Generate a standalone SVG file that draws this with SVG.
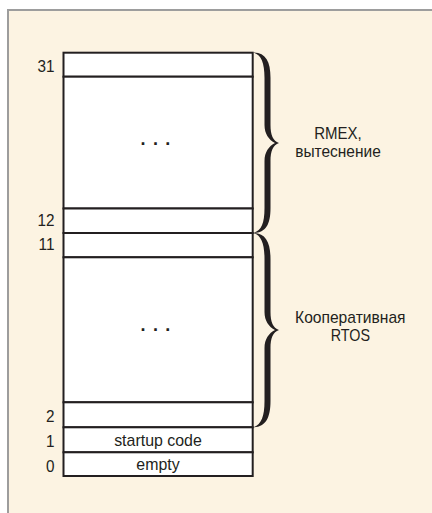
<svg xmlns="http://www.w3.org/2000/svg" width="432" height="513" viewBox="0 0 432 513">
  <style>
    .lbl{font-family:"Liberation Sans",Arial,sans-serif;font-size:17px;fill:#231f20}
    .num{text-anchor:end}
    .mid{text-anchor:middle}
    .row{fill:#ffffff;stroke:#231f20;stroke-width:2}
    .brace{fill:#231f20}
    .dots{font-family:"Liberation Sans",Arial,sans-serif;font-size:18px;font-weight:bold;fill:#231f20;text-anchor:middle;letter-spacing:1.2px}
  </style>
  <rect x="0" y="0" width="432" height="513" fill="#ffffff"/>
  <rect x="8" y="10" width="440" height="520" fill="#fcf3e2" stroke="#9d9d9d" stroke-width="2"/>

  <g id="row31">
    <rect class="row" x="63.5" y="52.7" width="189.2" height="24"/>
    <text class="lbl num" x="54.5" y="71.7" textLength="17" lengthAdjust="spacingAndGlyphs">31</text>
  </g>
  <g id="rows-upper">
    <rect class="row" x="63.5" y="76.7" width="189.2" height="131.8"/>
    <text class="dots" x="156" y="144.5">. . .</text>
  </g>
  <g id="row12">
    <rect class="row" x="63.5" y="208.5" width="189.2" height="24.5"/>
    <text class="lbl num" x="54.5" y="226" textLength="17" lengthAdjust="spacingAndGlyphs">12</text>
  </g>
  <g id="row11">
    <rect class="row" x="63.5" y="233" width="189.2" height="24.3"/>
    <text class="lbl num" x="54.5" y="249.5" textLength="16" lengthAdjust="spacingAndGlyphs">11</text>
  </g>
  <g id="rows-lower">
    <rect class="row" x="63.5" y="257.3" width="189.2" height="145"/>
    <text class="dots" x="156" y="331.2">. . .</text>
  </g>
  <g id="row2">
    <rect class="row" x="63.5" y="402.3" width="189.2" height="25"/>
    <text class="lbl num" x="54.5" y="421.7" textLength="8.5" lengthAdjust="spacingAndGlyphs">2</text>
  </g>
  <g id="row1">
    <rect class="row" x="63.5" y="427.3" width="189.2" height="25"/>
    <text class="lbl num" x="54.5" y="447.3" textLength="8.5" lengthAdjust="spacingAndGlyphs">1</text>
    <text class="lbl mid" x="158" y="446.3" textLength="87.7" lengthAdjust="spacingAndGlyphs">startup code</text>
  </g>
  <g id="row0">
    <rect class="row" x="63.5" y="452.3" width="189.2" height="23.7"/>
    <text class="lbl num" x="54.5" y="472.3" textLength="8.5" lengthAdjust="spacingAndGlyphs">0</text>
    <text class="lbl mid" x="158" y="469.8" textLength="43.3" lengthAdjust="spacingAndGlyphs">empty</text>
  </g>

  <g id="brace-rmex">
    <path class="brace" d="M253,52.5 C265.5,52.5 270.5,61 270.5,78 L270.5,125 C270.5,135 273,141 279,143 C273,145 270.5,151 270.5,161 L270.5,208 C270.5,225 265.5,233 253,233 C261,231 264.5,224 264.5,208 L264.5,161 C264.5,152 269,146 275,143 C269,140 264.5,134 264.5,125 L264.5,78 C264.5,62 261,54.5 253,52.5 Z"/>
    <text class="lbl mid" x="338" y="138.7" textLength="47.5" lengthAdjust="spacingAndGlyphs">RMEX,</text>
    <text class="lbl mid" x="338" y="157.3" textLength="85.5" lengthAdjust="spacingAndGlyphs">вытеснение</text>
  </g>
  <g id="brace-rtos">
    <path class="brace" d="M253,233 C265.5,233 270.5,242 270.5,259 L270.5,312 C270.5,322 273,328 279,330 C273,332 270.5,338 270.5,348 L270.5,401 C270.5,418 265.5,427.3 253,427.3 C261,425 264.5,417 264.5,401 L264.5,348 C264.5,339 269,333 275,330 C269,327 264.5,321 264.5,312 L264.5,259 C264.5,243 261,235 253,233 Z"/>
    <text class="lbl mid" x="350.3" y="322.7" textLength="110.5" lengthAdjust="spacingAndGlyphs">Кооперативная</text>
    <text class="lbl mid" x="350.3" y="340.7" textLength="39.3" lengthAdjust="spacingAndGlyphs">RTOS</text>
  </g>
</svg>
